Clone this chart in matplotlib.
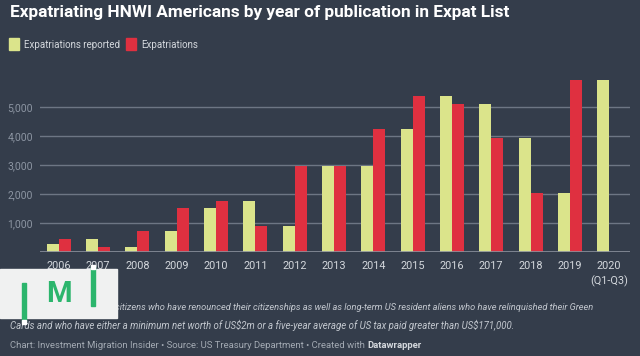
import numpy as np
import matplotlib
matplotlib.use("Agg")
from matplotlib import pyplot as plt
from matplotlib.patches import Rectangle

years = ["2006", "2007", "2008", "2009", "2010", "2011", "2012", "2013",
         "2014", "2015", "2016", "2017", "2018", "2019", "2020\n(Q1-Q3)"]
reported = [276, 448, 195, 724, 1529, 1782, 920, 2977, 2966, 4264, 5391, 5103, 3943, 2046, 5931]
expatriations = [448, 195, 724, 1529, 1782, 920, 2977, 2977, 4264, 5391, 5103, 3943, 2046, 5931]
yticks = [1000, 2000, 3000, 4000, 5000]

BG = "#343d4b"
YELLOW = "#dbe48b"
RED = "#df3040"
W, H = 640, 356


def fx(x):
    return x / W


def fy(y):
    return 1 - y / H


plt.rcParams["font.family"] = ["Roboto", "DejaVu Sans"]

fig = plt.figure(figsize=(6.4, 3.56), dpi=100, facecolor=BG)
ax = fig.add_axes([fx(40), fy(252.3), fx(590), 182.3 / H])
ax.set_facecolor(BG)

x = np.arange(len(years))
w = 0.305
ax.bar(x - w / 2, reported, width=w, color=YELLOW, zorder=3)
ax.bar(x[:len(expatriations)] + w / 2, expatriations, width=w, color=RED, zorder=3)

ax.set_xlim(-0.48, 14.53)
ax.set_ylim(0, 6286)
ax.set_yticks(yticks)
ax.set_yticklabels(["{:,}".format(v) for v in yticks])
ax.grid(axis="y", color="#6d7684", lw=1, zorder=0)
ax.axhline(0, color="#8a919c", lw=1.2, zorder=4)
ax.set_xticks(x)
ax.set_xticklabels(years, linespacing=1.5)
ax.tick_params(axis="y", length=0, pad=5, labelsize=7.5, labelcolor="#8c95a2")
ax.tick_params(axis="x", length=0, pad=6, labelsize=7.8, labelcolor="#d4d8dd")
for s in ax.spines.values():
    s.set_visible(False)

fig.text(fx(10), fy(13), "Expatriating HNWI Americans by year of publication in Expat List",
         color="white", fontsize=12.45, fontweight="bold", va="center")

# legend
fig.patches.append(Rectangle((fx(9), fy(50)), fx(10), 12 / H, transform=fig.transFigure,
                             color=YELLOW))
fig.text(fx(24), fy(44.5), "Expatriations reported", color="#d4d8dd", fontsize=7.0, va="center")
fig.patches.append(Rectangle((fx(126), fy(50)), fx(10), 12 / H, transform=fig.transFigure,
                             color=RED))
fig.text(fx(141), fy(44.5), "Expatriations", color="#d4d8dd", fontsize=7.0, va="center")

# note
fig.text(fx(115), fy(307), "citizens who have renounced their citizenships as well as long-term US resident "
         "aliens who have relinquished their Green",
         color="#c3c8cf", fontsize=6.67, style="italic", va="center")
fig.text(fx(10), fy(325), "Cards and who have either a minimum net worth of US\\$2m or a five-year average "
         "of US tax paid greater than US\\$171,000.",
         color="#c3c8cf", fontsize=6.9, style="italic", va="center")

# footer
foot = fig.text(fx(10), fy(346), "Chart: Investment Migration Insider \u2022 Source: US Treasury "
                "Department \u2022 Created with ", color="#a3aab3", fontsize=6.8, va="center")
fig.canvas.draw()
bb = foot.get_window_extent()
fig.text(bb.x1 / W, fy(346), "Datawrapper", color="#d4d8dd", fontsize=6.8,
         fontweight="bold", va="center")

# logo box
fig.patches.append(Rectangle((0, fy(318)), fx(117), 49 / H, transform=fig.transFigure,
                             color="#f0f1f1", zorder=10))
green = "#2bb56c"
fig.patches.append(Rectangle((fx(21.5), fy(321)), fx(4), 38 / H, transform=fig.transFigure,
                             color=green, zorder=11))
fig.patches.append(Rectangle((fx(21.5), fy(324)), fx(4), 4 / H, transform=fig.transFigure,
                             color="white", zorder=12))
fig.patches.append(Rectangle((fx(90.5), fy(306)), fx(4), 40 / H, transform=fig.transFigure,
                             color=green, zorder=11))
fig.patches.append(Rectangle((fx(90.5), fy(269)), fx(4), 4 / H, transform=fig.transFigure,
                             color="white", zorder=12))
fig.text(fx(59), fy(294.5), "M", color=green, fontsize=21, fontweight="bold",
         ha="center", va="center", zorder=12)

fig.savefig("out.png", dpi=100, facecolor=BG)
